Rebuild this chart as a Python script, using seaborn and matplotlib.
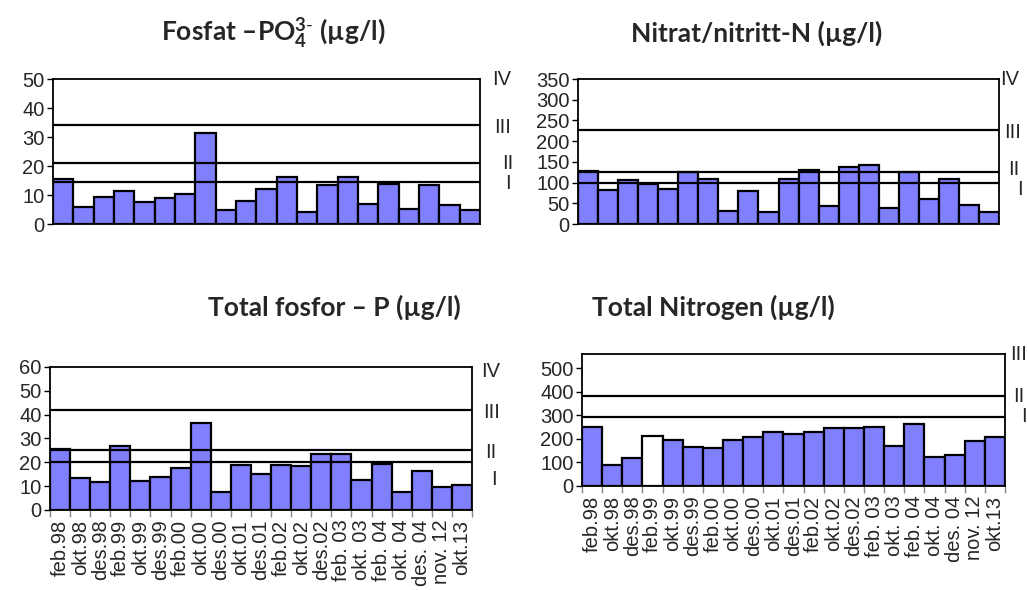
import matplotlib
matplotlib.use("Agg")
import matplotlib.pyplot as plt
import matplotlib.transforms as mtransforms
import seaborn as sns

# sampling dates (shared by all four panels)
dates = ["feb.98", "okt.98", "des.98", "feb.99", "okt.99", "des.99", "feb.00",
         "okt.00", "des.00", "okt.01", "des.01", "feb.02", "okt.02", "des.02",
         "feb. 03", "okt. 03", "feb. 04", "okt. 04", "des. 04", "nov. 12", "okt.13"]

fosfat = [15.6, 5.8, 9.4, 11.4, 7.6, 9.1, 10.2, 31.4, 5.0, 8.0, 12.0, 16.2, 4.1,
          13.4, 16.3, 6.8, 13.9, 5.3, 13.5, 6.7, 4.8]
nitrat = [129, 81, 106, 96, 84, 125, 108, 31, 79, 30, 109, 131, 43, 137, 142,
          39, 125, 60, 109, 45, 28]
tot_p = [25.5, 13.4, 11.7, 26.8, 12.3, 13.7, 17.7, 36.4, 7.4, 19.0, 15.3, 19.0,
         18.5, 23.3, 23.7, 12.6, 19.1, 7.7, 16.3, 9.8, 10.5]
tot_n = [249, 89, 120, 213, 196, 166, 163, 196, 207, 227, 221, 230, 246, 247,
         251, 171, 263, 124, 131, 189, 206]

# class limits (I, II, III)
fosfat_limits = [14.6, 21.0, 34.2]
nitrat_limits = [98, 126, 226]
tot_p_limits = [20.0, 25.0, 42.0]
tot_n_limits = [293, 383]

classes = ["I", "II", "III", "IV"]

BAR = "#8080FF"
FS = 14.5

sns.set_theme(style="white")
plt.rcParams["font.family"] = ["Liberation Sans", "DejaVu Sans"]
plt.rcParams["mathtext.fontset"] = "custom"
plt.rcParams["mathtext.rm"] = "Lato"
plt.rcParams["mathtext.bf"] = "Lato:bold"

fig = plt.figure(figsize=(10.27, 5.90), dpi=100)


def panel(rect, values, limits, ymax, yticks, label_y, label_dx, show_x, colors=None):
    ax = fig.add_axes(rect)
    if colors is None:
        colors = [BAR] * len(values)
    sns.barplot(x=dates, y=values, hue=dates, palette=colors, legend=False,
                width=1.0, saturation=1, edgecolor="black", linewidth=1.6, ax=ax)
    for lim in limits:
        ax.axhline(lim, color="black", lw=1.6, zorder=5)
    ax.set_xlim(-0.5, len(values) - 0.5)
    ax.set_ylim(0, ymax)
    ax.set_yticks(yticks)
    ax.set_xlabel("")
    ax.set_ylabel("")
    for sp in ax.spines.values():
        sp.set_color("black")
        sp.set_linewidth(1.3)
    ax.tick_params(axis="y", direction="out", length=4, width=1, color="black",
                   labelsize=FS, pad=2, left=True)
    if show_x:
        ax.set_xticks(range(len(values)))
        ax.set_xticklabels(dates, rotation=90, fontsize=FS)
        ax.set_xticks([i - 0.5 for i in range(len(values) + 1)], minor=True)
        ax.tick_params(axis="x", which="major", length=0, pad=7)
        ax.tick_params(axis="x", which="minor", direction="out", length=5,
                       width=1, color="#888888", bottom=True)
    else:
        ax.set_xticks([])
    trans = mtransforms.blended_transform_factory(ax.transAxes, ax.transData)
    for i, y in enumerate(label_y):
        ax.text(1.0 + label_dx[i], y, classes[i], transform=trans,
                ha="center", va="center", fontsize=FS, clip_on=False)
    return ax


panel([0.0516, 0.6203, 0.4158, 0.2458], fosfat, fosfat_limits, 50, range(0, 51, 10),
      [14.1, 21.0, 33.4, 49.7], [0.066, 0.064, 0.052, 0.050], False)
panel([0.5628, 0.6203, 0.4100, 0.2458], nitrat, nitrat_limits, 350, range(0, 351, 50),
      [84, 131, 222, 350], [0.050, 0.036, 0.032, 0.024], False)
panel([0.0487, 0.1356, 0.4109, 0.2424], tot_p, tot_p_limits, 60, range(0, 61, 10),
      [12.6, 24.3, 41.1, 57.9], [0.053, 0.045, 0.047, 0.043], True)
n_colors = [BAR] * len(tot_n)
n_colors[3] = "white"
panel([0.5667, 0.1763, 0.4119, 0.2237], tot_n, tot_n_limits, 560, range(0, 501, 100),
      [293, 378, 556], [0.045, 0.033, 0.032], True, colors=n_colors)

title_kw = dict(ha="center", va="center", fontsize=19, fontweight="bold",
                family=["Lato", "DejaVu Sans"])
fig.text(273 / 1027, 1 - 33 / 590, r"Fosfat –PO$\mathbf{_4^{3\text{-}}}$ (µg/l)", **title_kw)
fig.text(757 / 1027, 1 - 33 / 590, "Nitrat/nitritt-N (µg/l)", **title_kw)
fig.text(334 / 1027, 1 - 307 / 590, "Total fosfor – P (µg/l)", **title_kw)
fig.text(713 / 1027, 1 - 307 / 590, "Total Nitrogen (µg/l)", **title_kw)

fig.savefig("out.png", dpi=100, facecolor="white")
